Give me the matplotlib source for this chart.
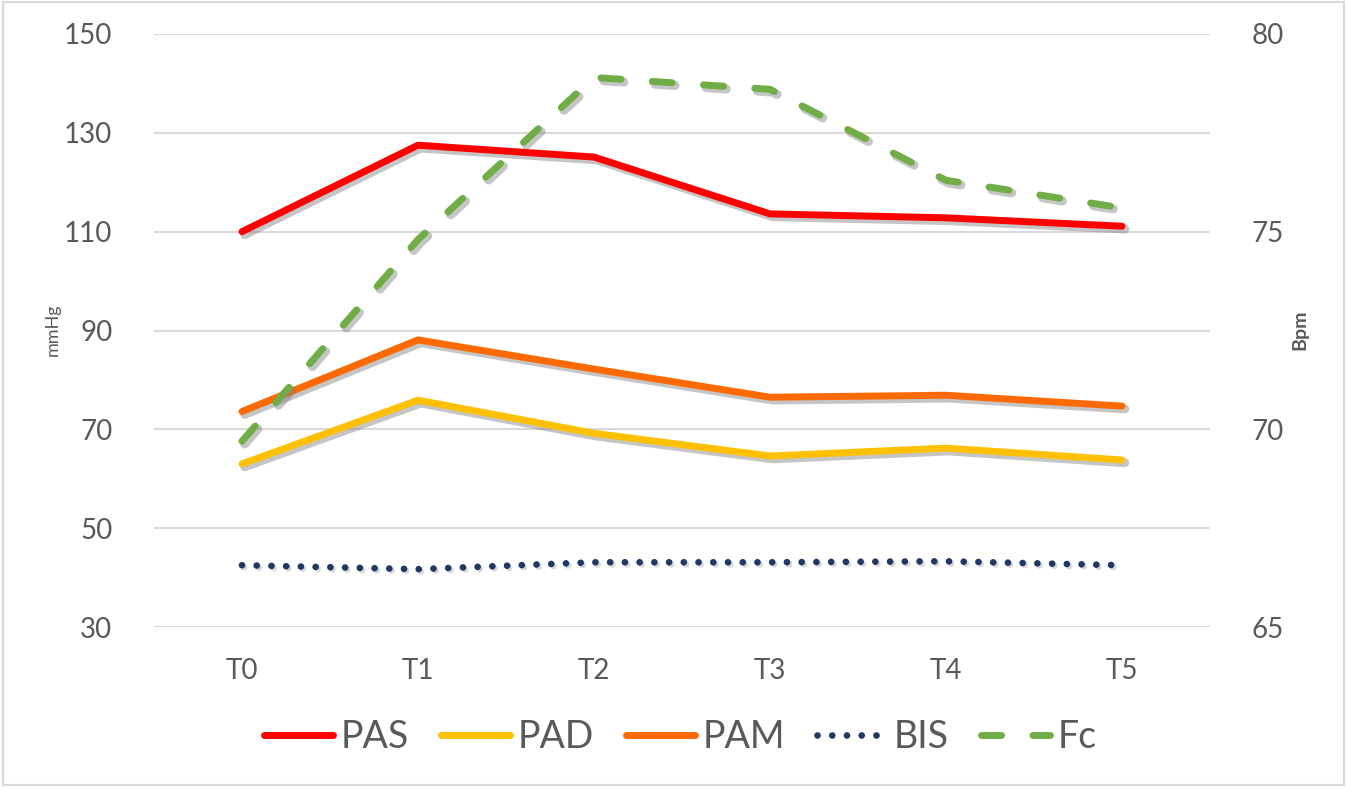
import matplotlib
matplotlib.use("Agg")
import matplotlib.pyplot as plt
import matplotlib.patheffects as pe
from matplotlib.lines import Line2D
from matplotlib.patches import Rectangle

plt.rcParams['font.family'] = ['Lato', 'DejaVu Sans']

# time points and measured values
times = ['T0', 'T1', 'T2', 'T3', 'T4', 'T5']
pas = [110.0, 127.5, 125.1, 113.6, 112.8, 111.1]
pad = [63.0, 75.9, 69.2, 64.6, 66.2, 63.8]
pam = [73.6, 88.1, 82.2, 76.5, 76.9, 74.7]
bis = [42.5, 41.7, 43.1, 43.1, 43.3, 42.5]
fc = [69.7, 74.8, 78.9, 78.6, 76.3, 75.6]  # heart rate, right axis

txt_col = '#595959'
grid_col = '#D9D9D9'
colors = {'PAS': '#FF0000', 'PAD': '#FFC000', 'PAM': '#FF6A00', 'BIS': '#1F3864', 'Fc': '#70AD47'}
dot_style = (0, (0.01, 2.2))
dash_style = (0, (2.9, 4.5))

fig = plt.figure(figsize=(13.47, 7.87), dpi=100)
# light border around the whole chart area
fig.patches.append(Rectangle((0.002, 0.003), 0.996, 0.994, transform=fig.transFigure,
                             fill=False, edgecolor=grid_col, lw=1.5))
ax = fig.add_axes([0.1143, 0.2033, 0.784, 0.7535])
ax2 = ax.twinx()

shadow = [pe.SimpleLineShadow(offset=(2, -2), shadow_color='#7f7f7f', alpha=0.45, linewidth=6.5), pe.Normal()]

x = list(range(len(times)))
ax.plot(x, pas, color=colors['PAS'], lw=5, solid_capstyle='round', path_effects=shadow)
ax.plot(x, pad, color=colors['PAD'], lw=5, solid_capstyle='round', path_effects=shadow)
ax.plot(x, pam, color=colors['PAM'], lw=5, solid_capstyle='round', path_effects=shadow)
ax.plot(x, bis, color=colors['BIS'], lw=4.8, linestyle=dot_style, dash_capstyle='round',
        path_effects=[pe.SimpleLineShadow(offset=(1.5, -1.5), shadow_color='#7f7f7f', alpha=0.3), pe.Normal()])
ax2.plot(x, fc, color=colors['Fc'], lw=5, linestyle=dash_style, dash_capstyle='round', path_effects=shadow)

ax.set_xlim(-0.5, len(times) - 0.5)
ax.set_ylim(30, 150)
ax.set_yticks(range(30, 151, 20))
ax2.set_ylim(65, 80)
ax2.set_yticks([65, 70, 75, 80])
ax.set_xticks(x)
ax.set_xticklabels(times)

ax.grid(axis='y', color=grid_col, lw=1.5)
ax.set_axisbelow(True)
for a in (ax, ax2):
    for s in a.spines.values():
        s.set_visible(False)
    a.tick_params(length=0, colors=txt_col, labelsize=20)
ax.tick_params(axis='y', pad=30)
ax.tick_params(axis='x', pad=22)
ax2.tick_params(axis='y', pad=30)

fig.text(53 / 1347, 1 - 330 / 787, 'mmHg', color=txt_col, fontsize=13, rotation=90, ha='center', va='center')
fig.text(1300 / 1347, 1 - 330 / 787, 'Bpm', color=txt_col, fontsize=14, fontweight='bold',
         rotation=90, ha='center', va='center')

# legend handles without shadows
handles = [
    Line2D([], [], color=colors['PAS'], lw=5, solid_capstyle='round', label='PAS'),
    Line2D([], [], color=colors['PAD'], lw=5, solid_capstyle='round', label='PAD'),
    Line2D([], [], color=colors['PAM'], lw=5, solid_capstyle='round', label='PAM'),
    Line2D([], [], color=colors['BIS'], lw=4.8, linestyle=dot_style, dash_capstyle='round', label='BIS'),
    Line2D([], [], color=colors['Fc'], lw=5, linestyle=dash_style, dash_capstyle='round', label='Fc'),
]
fig.legend(handles=handles, loc='center', bbox_to_anchor=(0.505, 0.064), ncol=5,
           frameon=False, fontsize=27, labelcolor=txt_col, handlelength=1.85,
           handletextpad=0.2, columnspacing=0.85)

fig.savefig('out.png', dpi=100)
